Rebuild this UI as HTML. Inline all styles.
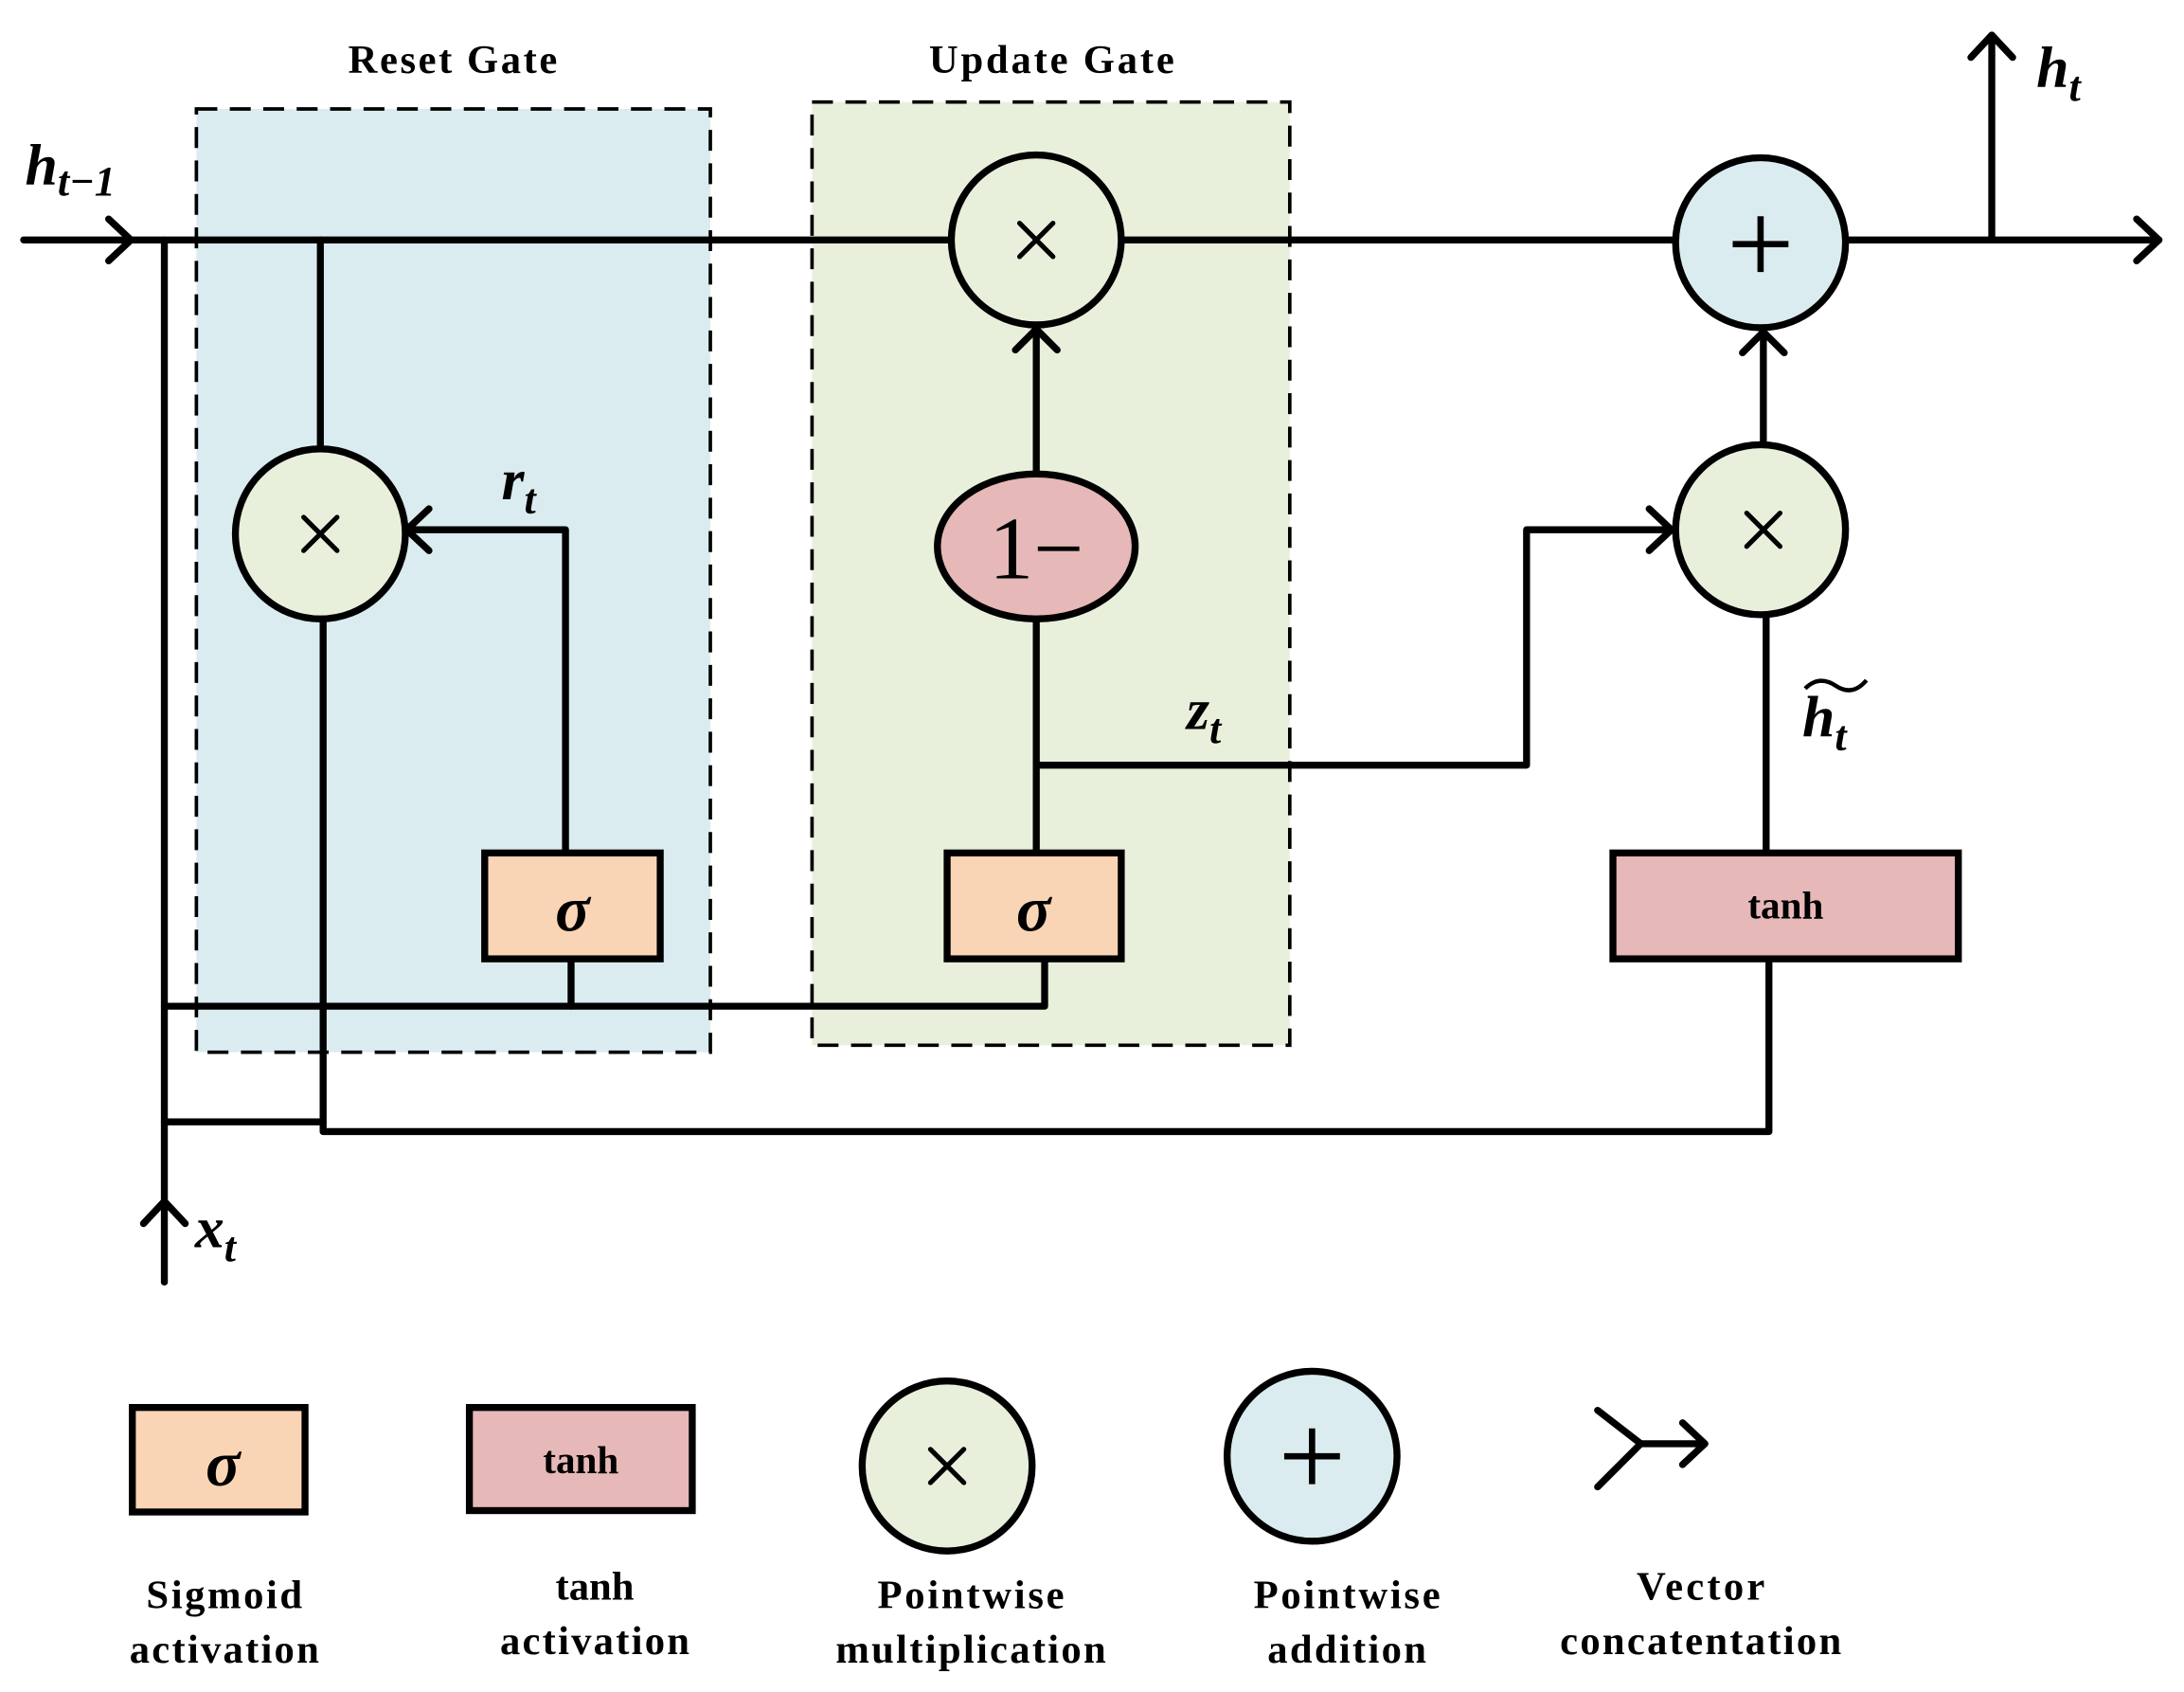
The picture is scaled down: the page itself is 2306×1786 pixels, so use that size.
<!DOCTYPE html>
<html><head><meta charset="utf-8"><style>
html,body{margin:0;padding:0;background:#fff;}
svg{display:block;}
text{font-family:"Liberation Serif",serif;font-weight:bold;fill:#000;}
</style></head><body>
<svg width="2306" height="1786" viewBox="0 0 1568 1214" xmlns="http://www.w3.org/2000/svg">
<g stroke="#000" stroke-width="2.5" stroke-dasharray="15,9" fill="none">
<rect x="141" y="78" width="369" height="677" fill="#daecf0"/>
<rect x="583" y="73" width="343" height="677" fill="#e8f0dc"/>
</g>
<text x="325" y="52" font-size="29" text-anchor="middle" textLength="150">Reset Gate</text>
<text x="755" y="52" font-size="29" text-anchor="middle" textLength="176">Update Gate</text>
<g stroke="#000" stroke-width="5" fill="none" stroke-linecap="round" stroke-linejoin="round">
<line x1="17" y1="172" x2="1550" y2="172"/>
<polyline points="78,157 94,172 78,187"/>
<polyline points="1534,157 1550,172 1534,187"/>
<line x1="1430" y1="172" x2="1430" y2="25"/>
<polyline points="1415,41 1430,25 1445,41"/>
<line x1="230" y1="172" x2="230" y2="321"/>
<polyline points="406,612 406,380 292,380"/>
<polyline points="308,365 292,380 308,395"/>
<line x1="744" y1="612" x2="744" y2="444"/>
<line x1="744" y1="340" x2="744" y2="236"/>
<polyline points="729,251 744,236 759,251"/>
<polyline points="744,549 1096,549 1096,380 1200,380"/>
<polyline points="1184,365 1200,380 1184,395"/>
<line x1="1266" y1="318" x2="1266" y2="238"/>
<polyline points="1251,253 1266,238 1281,253"/>
<line x1="1268" y1="612" x2="1268" y2="442"/>
<line x1="118" y1="920" x2="118" y2="172"/>
<polyline points="103,878 118,862 133,878"/>
<polyline points="118,722 750,722 750,688"/>
<line x1="410" y1="688" x2="410" y2="722"/>
<line x1="118" y1="805" x2="232" y2="805"/>
<polyline points="232,445 232,812 1270,812 1270,688"/>
<polyline points="1147,1012 1178,1036 1147,1067"/>
<line x1="1178" y1="1036" x2="1224" y2="1036"/>
<polyline points="1208,1021 1224,1036 1208,1051"/>
</g>
<g stroke="#000" stroke-width="5">
<circle cx="744" cy="172" r="61" fill="#e8f0dc"/>
<circle cx="1264" cy="174" r="61" fill="#daecf0"/>
<circle cx="230" cy="383" r="61" fill="#e8f0dc"/>
<circle cx="1264" cy="380" r="61" fill="#e8f0dc"/>
<ellipse cx="744" cy="392" rx="71" ry="52" fill="#e6b8b8"/>
<rect x="348" y="612" width="126" height="76" fill="#f9d5b5"/>
<rect x="680" y="612" width="125" height="76" fill="#f9d5b5"/>
<rect x="1158" y="612" width="248" height="76" fill="#e6b8b8"/>
<rect x="95" y="1010" width="124" height="75" fill="#f9d5b5"/>
<rect x="337" y="1010" width="160" height="74" fill="#e6b8b8"/>
<circle cx="680" cy="1052" r="61" fill="#e8f0dc"/>
<circle cx="942" cy="1045" r="61" fill="#daecf0"/>
</g>
<g stroke="#000" stroke-width="3.5" stroke-linecap="round">
<path d="M732 160 L756 184 M756 160 L732 184"/>
<path d="M218 371 L242 395 M242 371 L218 395"/>
<path d="M1254 368 L1278 392 M1278 368 L1254 392"/>
<path d="M668 1040 L692 1064 M692 1040 L668 1064"/>
</g>
<g stroke="#000" stroke-width="4.5">
<path d="M1264 155 V195 M1244 175 H1284"/>
<path d="M942 1025 V1065 M922 1045 H962"/>
</g>
<text x="744" y="415" font-size="64" text-anchor="middle" style="font-weight:normal">1−</text>
<text x="411" y="668" font-size="46" text-anchor="middle" font-style="italic">σ</text>
<text x="742" y="668" font-size="46" text-anchor="middle" font-style="italic">σ</text>
<text x="160" y="1066" font-size="46" text-anchor="middle" font-style="italic">σ</text>
<text x="1282" y="659" font-size="28" text-anchor="middle">tanh</text>
<text x="417" y="1057" font-size="28" text-anchor="middle">tanh</text>
<text x="18" y="132" font-size="42" font-style="italic">h<tspan font-size="30" dy="8">t−1</tspan></text>
<text x="1462" y="62" font-size="42" font-style="italic">h<tspan font-size="30" dy="10">t</tspan></text>
<text x="360" y="358" font-size="42" font-style="italic">r<tspan font-size="30" dy="10">t</tspan></text>
<text x="852" y="523" font-size="42" font-style="italic">z<tspan font-size="30" dy="10">t</tspan></text>
<text x="1294" y="528" font-size="42" font-style="italic">h<tspan font-size="30" dy="10">t</tspan></text>
<path d="M1296 494 q10 -10 22 -2 t22 -4" stroke="#000" stroke-width="3" fill="none"/>
<text x="140" y="895" font-size="42" font-style="italic">x<tspan font-size="30" dy="10">t</tspan></text>
<g font-size="29" text-anchor="middle">
<text x="161" y="1154" textLength="112">Sigmoid</text><text x="161" y="1193" textLength="136">activation</text>
<text x="427" y="1148">tanh</text><text x="427" y="1187" textLength="136">activation</text>
<text x="697" y="1154" textLength="134">Pointwise</text><text x="697" y="1193" textLength="194">multiplication</text>
<text x="967" y="1154" textLength="134">Pointwise</text><text x="967" y="1193" textLength="114">addition</text>
<text x="1221" y="1148" textLength="92">Vector</text><text x="1221" y="1187" textLength="202">concatentation</text>
</g>
</svg>
</body></html>
